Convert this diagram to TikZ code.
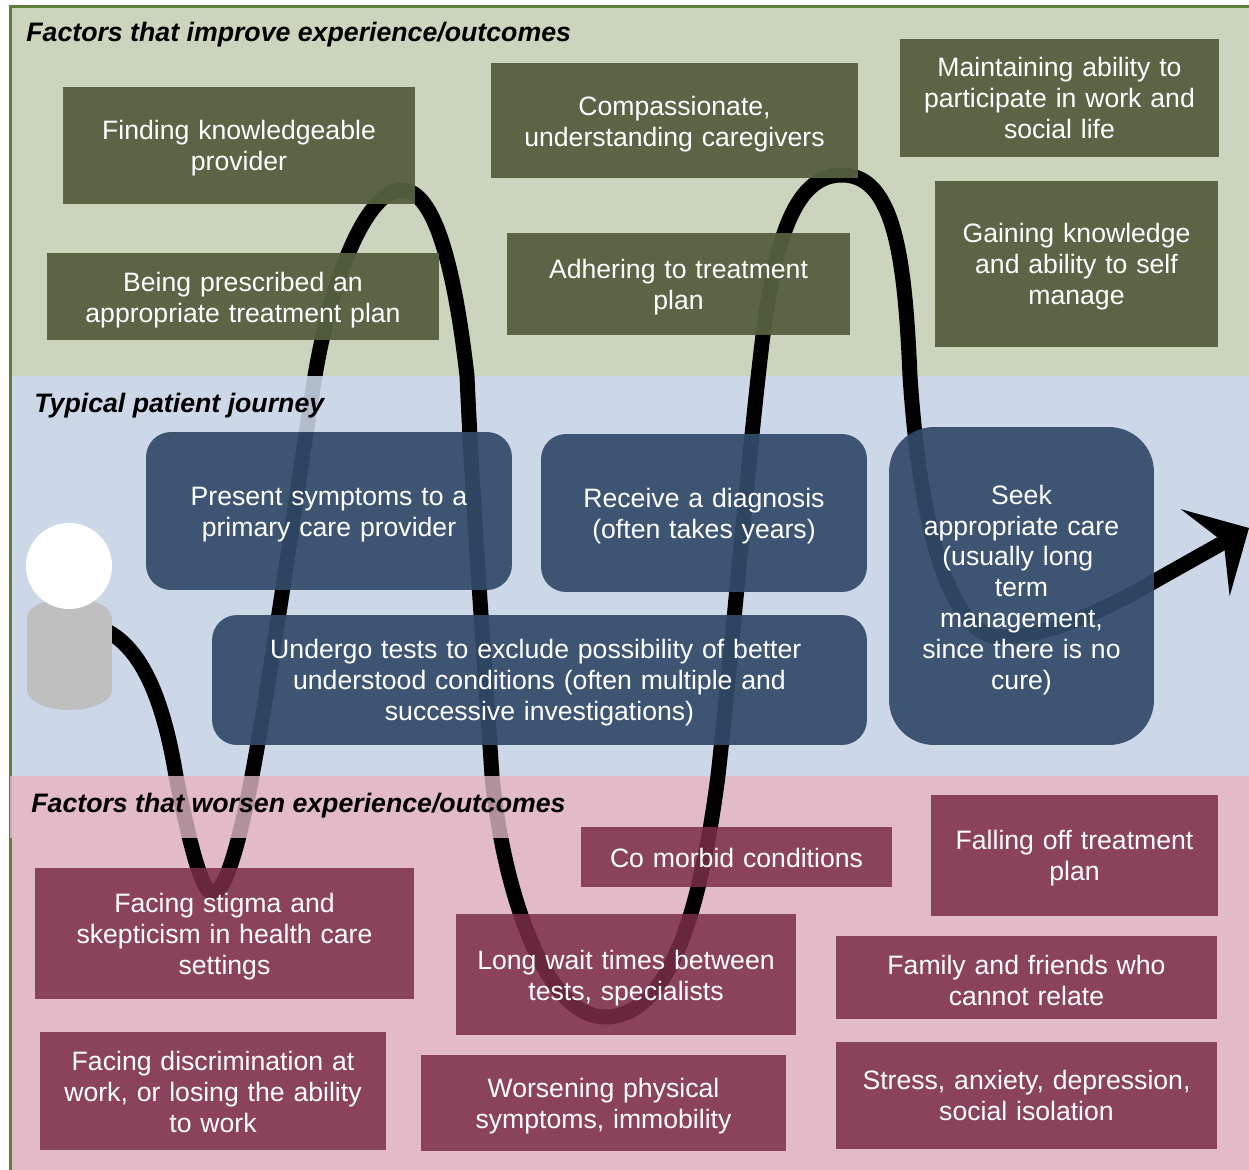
\documentclass[tikz,border=0pt]{standalone}
\usepackage{fontspec}
\setmainfont{Liberation Sans}
\usetikzlibrary{arrows.meta, positioning}
\definecolor{bandgreen}{RGB}{203,212,189}
\definecolor{bandblue}{RGB}{204,215,232}
\definecolor{bandpink}{RGB}{227,186,199}
\definecolor{edgegreen}{RGB}{94,125,58}
\definecolor{boxgreen}{RGB}{85,96,64}
\definecolor{boxblue}{RGB}{49,75,106}
\definecolor{boxpink}{RGB}{123,47,71}
\definecolor{bodygrey}{RGB}{191,191,191}

\begin{document}
\begin{tikzpicture}[x=0.02cm, y=-0.02cm,
    drop/.store in=\dropheight,
    box/.style={inner sep=0pt, align=center, text=white, text opacity=1, font=\fontsize{15.15}{17.6}\selectfont, drop=14.4, execute at begin node=\rule{0pt}{\dropheight pt}},
    greenbox/.style={box, fill=boxgreen, fill opacity=0.95},
    bluebox/.style={box, fill=boxblue, fill opacity=0.92, rounded corners=0.5cm},
    pinkbox/.style={box, fill=boxpink, fill opacity=0.85},
    title/.style={anchor=base west, inner sep=0pt, font=\fontsize{15.2}{18}\selectfont\bfseries\itshape}]

    \useasboundingbox (0, 0) rectangle (1249, 1170);

    % Bands
    \fill[bandgreen] (12, 8) rectangle (1249, 376);
    \fill[bandblue] (12, 376) rectangle (1249, 776);
    \fill[bandpink] (12, 776) rectangle (1249, 1170);
    \draw[edgegreen, line width=0.07cm] (10.5, 1170) -- (10.5, 6.3) -- (1249, 6.3);

    % Journey
    \coordinate (start) at (100, 628);
    \coordinate (finish) at (1249, 528);
    \draw[line width=0.3cm, -{Stealth[length=1cm, width=1.98cm, inset=0.42cm]}] (start)
        .. controls (145, 645) and (165, 710) .. (176, 776)
        .. controls (186, 825) and (200, 893) .. (213, 893)
        .. controls (226, 893) and (241, 835) .. (252, 776)
        .. controls (272, 670) and (303, 450) .. (315, 376)
        .. controls (330, 285) and (365, 190) .. (402, 190)
        .. controls (435, 190) and (455, 270) .. (467, 376)
        .. controls (473, 510) and (483, 640) .. (492, 776)
        .. controls (503, 890) and (545, 1017) .. (605, 1017)
        .. controls (675, 1017) and (703, 890) .. (718, 776)
        .. controls (733, 640) and (750, 440) .. (763, 335)
        .. controls (777, 225) and (800, 175) .. (842, 175)
        .. controls (895, 175) and (905, 260) .. (910, 376)
        .. controls (922, 560) and (960, 637) .. (1000, 637)
        .. controls (1050, 637) and (1110, 607) .. (1153, 582)
        -- (finish);

    % Titles
    \node at (206, 404) [fill=bandblue, fill opacity=0.88, inner sep=0pt, minimum width=7.76cm, minimum height=1.12cm] (typicalwash) {};
    \node at (295, 807) [fill=bandpink, fill opacity=0.78, inner sep=0pt, minimum width=11.4cm, minimum height=1.24cm] (worsenwash) {};
    \node at (26, 41) [title] (improvetitle) {Factors that improve experience/outcomes};
    \node at (34, 412) [title] (typicaltitle) {Typical patient journey};
    \node at (31, 812) [title] (worsentitle) {Factors that worsen experience/outcomes};

    % Patient
    \node at (69.5, 654) [fill=bodygrey, inner sep=0pt, minimum width=1.7cm, minimum height=1.44cm] (body) {};
    \fill[bodygrey] (69.5, 618) ellipse [x radius=42.5, y radius=20];
    \fill[bodygrey] (69.5, 690) ellipse [x radius=42.5, y radius=20];
    \node at (69, 566) [circle, fill=white, inner sep=0pt, minimum size=1.72cm] (head) {};

    % Improve
    \node at (239, 145.5) [greenbox, text width=7.04cm, minimum height=2.34cm] (finding) {Finding knowledgeable\\provider};
    \node at (243, 296.5) [greenbox, drop=15.5, text width=7.84cm, minimum height=1.74cm] (prescribed) {Being prescribed an\\appropriate treatment plan};
    \node at (674.5, 120.5) [greenbox, drop=15.5, text width=7.34cm, minimum height=2.3cm] (caregivers) {Compassionate,\\understanding caregivers};
    \node at (678.5, 284) [greenbox, text width=6.86cm, minimum height=2.04cm] (adhering) {Adhering to treatment\\plan};
    \node at (1059.5, 98) [greenbox, drop=11, text width=6.38cm, minimum height=2.36cm] (maintaining) {Maintaining ability to\\participate in work and\\social life};
    \node at (1076.5, 264) [greenbox, text width=5.66cm, minimum height=3.32cm] (gaining) {Gaining knowledge\\and ability to self\\manage};

    % Journey steps
    \node at (329, 511) [bluebox, text width=7.32cm, minimum height=3.16cm] (present) {Present symptoms to a\\primary care provider};
    \node at (704, 513) [bluebox, text width=6.52cm, minimum height=3.16cm] (receive) {Receive a diagnosis\\(often takes years)};
    \node at (539.5, 680) [bluebox, text width=13.1cm, minimum height=2.6cm] (undergo) {Undergo tests to exclude possibility of better\kern4.2pt\\understood conditions (often multiple and\\successive investigations)};
    \node at (1021.5, 586) [bluebox, drop=15.5, rounded corners=0.9cm, text width=5.3cm, minimum height=6.36cm] (seek) {Seek\\appropriate care\\(usually long\kern4.2pt\\term\\management,\\since there is no\\cure)};

    % Worsen
    \node at (224.5, 933.5) [pinkbox, text width=7.58cm, minimum height=2.62cm] (stigma) {Facing stigma and\\skepticism in health care\\settings};
    \node at (213, 1091) [pinkbox, drop=12.1, text width=6.92cm, minimum height=2.36cm] (discrimination) {Facing discrimination at\\work, or losing the ability\\to work};
    \node at (736.5, 857) [pinkbox, drop=12.1, text width=6.22cm, minimum height=1.2cm] (comorbid) {Co morbid conditions};
    \node at (626, 974.5) [pinkbox, drop=15.5, text width=6.8cm, minimum height=2.42cm] (waits) {Long wait times between\\tests, specialists};
    \node at (603.5, 1103) [pinkbox, text width=7.3cm, minimum height=1.92cm] (worsening) {Worsening physical\\symptoms, immobility};
    \node at (1074.5, 855.5) [pinkbox, text width=5.74cm, minimum height=2.42cm] (falling) {Falling off treatment\\plan};
    \node at (1026.5, 977.5) [pinkbox, text width=7.62cm, minimum height=1.66cm] (family) {Family and friends who\\cannot relate};
    \node at (1026.5, 1095.5) [pinkbox, drop=11, text width=7.62cm, minimum height=2.14cm] (stress) {Stress, anxiety, depression,\\social isolation};

\end{tikzpicture}
\end{document}
